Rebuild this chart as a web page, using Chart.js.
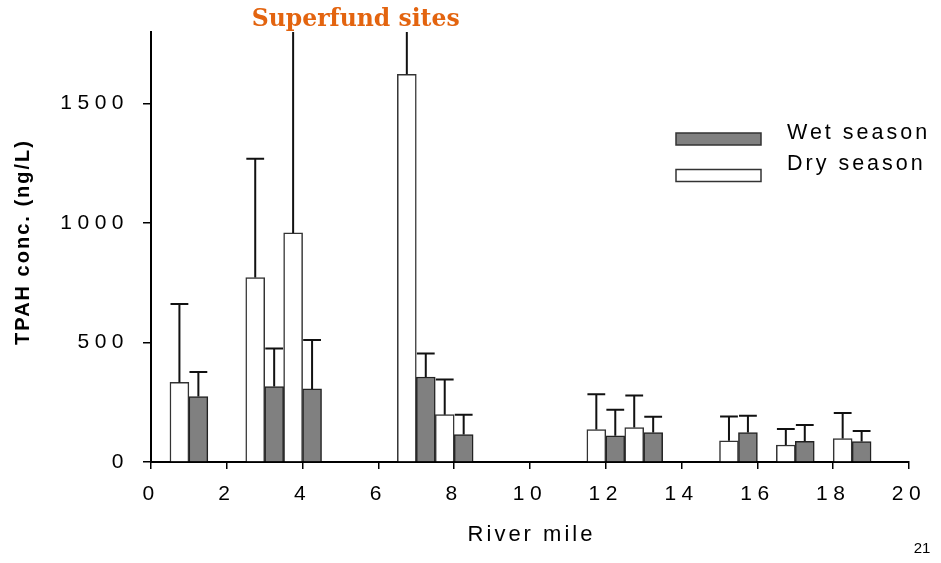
<!DOCTYPE html>
<html>
<head>
<meta charset="utf-8">
<title>TPAH by river mile</title>
<script src="https://cdn.jsdelivr.net/npm/chart.js@4.4.1/dist/chart.umd.min.js"></script>
<style>
  html, body { margin: 0; padding: 0; background: #fff; }
  #chart { display: block; }
</style>
</head>
<body>
<canvas id="chart" width="941" height="563"></canvas>
<script>
// river mile of each sampling pair, dry bar sits left of the mile, wet bar right
const riverMiles = [1, 3, 4, 7, 8, 12, 13, 15.5, 17, 18.5];
const dryMeans = [333, 772, 959, 1623, 198, 136, 144, 89, 71, 98];
const drySd = [328, 497, 950, 600, 147, 148, 134, 101, 67, 107];
const wetMeans = [274, 316, 306, 356, 115, 110, 123, 123, 87, 86];
const wetSd = [103, 159, 205, 98, 83, 109, 66, 71, 68, 44];
const xTicks = [0, 2, 4, 6, 8, 10, 12, 14, 16, 18, 20];
const yTicks = [0, 500, 1000, 1500];

const FONT = "'Liberation Sans', Arial, sans-serif";
Chart.defaults.font.family = FONT;
Chart.defaults.color = '#000';

const toPoints = (vals) => riverMiles.map((m, i) => ({ x: m, y: vals[i] }));

// tick labels in the slide are widely tracked
const tracking = {
  id: 'tracking',
  beforeDraw(chart) {
    chart.ctx.letterSpacing = '5.5px';
  }
};

// one-sided (upper) error bars with a cap
const errorBars = {
  id: 'errorBars',
  afterDatasetsDraw(chart) {
    const { ctx, chartArea, scales: { y } } = chart;
    ctx.save();
    ctx.beginPath();
    ctx.rect(chartArea.left, chartArea.top, chartArea.width, chartArea.height);
    ctx.clip();
    ctx.strokeStyle = '#111';
    ctx.lineWidth = 2;
    chart.data.datasets.forEach((ds, di) => {
      const meta = chart.getDatasetMeta(di);
      meta.data.forEach((bar, i) => {
        const top = y.getPixelForValue(ds.data[i].y + ds.sd[i]);
        const half = bar.width * 0.47;
        ctx.beginPath();
        ctx.moveTo(bar.x, bar.y);
        ctx.lineTo(bar.x, top);
        ctx.moveTo(bar.x - half, top);
        ctx.lineTo(bar.x + half, top);
        ctx.stroke();
      });
    });
    ctx.restore();
  }
};

// heading, legend, axis titles and slide number
const decorations = {
  id: 'decorations',
  afterDraw(chart) {
    const { ctx, scales: { x } } = chart;
    ctx.save();

    ctx.letterSpacing = '0px';
    ctx.font = "bold 23.5px 'DejaVu Serif', serif";
    ctx.fillStyle = '#E3640F';
    ctx.textAlign = 'center';
    ctx.textBaseline = 'middle';
    ctx.fillText('Superfund sites', x.getPixelForValue(5.4), 20);

    // legend: wet listed first
    const items = [chart.data.datasets[1], chart.data.datasets[0]];
    items.forEach((ds, k) => {
      const top = 133 + k * 36.5;
      ctx.fillStyle = ds.backgroundColor;
      ctx.fillRect(676, top, 85, 12);
      ctx.strokeStyle = '#333';
      ctx.lineWidth = 1.5;
      ctx.strokeRect(676, top, 85, 12);
      ctx.fillStyle = '#000';
      ctx.letterSpacing = '3px';
      ctx.font = '21.5px ' + FONT;
      ctx.textAlign = 'left';
      ctx.textBaseline = 'alphabetic';
      ctx.fillText(ds.label, 787, 139 + k * 30.5);
    });

    // x axis title
    ctx.letterSpacing = '3px';
    ctx.font = '22px ' + FONT;
    ctx.textAlign = 'center';
    ctx.textBaseline = 'middle';
    ctx.fillText('River mile', (chart.chartArea.left + chart.chartArea.right) / 2 + 1.5, 535);

    // y axis title
    ctx.save();
    ctx.translate(23, 243);
    ctx.rotate(-Math.PI / 2);
    ctx.letterSpacing = '2px';
    ctx.font = 'bold 20px ' + FONT;
    ctx.fillText('TPAH conc. (ng/L)', 1, 0);
    ctx.restore();

    ctx.letterSpacing = '0px';
    ctx.font = '15px ' + FONT;
    ctx.textAlign = 'center';
    ctx.fillText('21', 922, 549);

    ctx.restore();
  }
};

new Chart(document.getElementById('chart'), {
  type: 'bar',
  data: {
    datasets: [
      {
        label: 'Dry season',
        data: toPoints(dryMeans),
        sd: drySd,
        backgroundColor: '#ffffff',
        borderColor: '#333333',
        borderWidth: 1.5,
        borderSkipped: 'bottom'
      },
      {
        label: 'Wet season',
        data: toPoints(wetMeans),
        sd: wetSd,
        backgroundColor: '#808080',
        borderColor: '#222222',
        borderWidth: 1.5,
        borderSkipped: 'bottom'
      }
    ]
  },
  options: {
    responsive: false,
    animation: false,
    devicePixelRatio: 1,
    barPercentage: 1,
    categoryPercentage: 1,
    layout: { padding: { top: 32, right: 32, left: 0, bottom: 0 } },
    plugins: {
      legend: { display: false },
      tooltip: { enabled: false }
    },
    scales: {
      x: {
        type: 'linear',
        min: 0,
        max: 20,
        offset: false,
        afterBuildTicks: (scale) => { scale.ticks = xTicks.map(v => ({ value: v })); },
        afterFit: (scale) => { scale.height = 101; },
        grid: {
          offset: false,
          drawOnChartArea: false,
          drawTicks: true,
          tickLength: 7,
          color: '#000',
          lineWidth: 1.5
        },
        border: { display: true, color: '#000', width: 2 },
        ticks: {
          font: { size: 21 },
          color: '#000',
          padding: 13,
          maxRotation: 0,
          autoSkip: false,
          callback: (v) => String(v)
        }
      },
      y: {
        min: 0,
        max: 1800,
        afterBuildTicks: (scale) => { scale.ticks = yTicks.map(v => ({ value: v })); },
        afterFit: (scale) => { scale.width = 151; },
        grid: {
          drawOnChartArea: false,
          drawTicks: true,
          tickLength: 8,
          color: '#000',
          lineWidth: 1.5
        },
        border: { display: true, color: '#000', width: 2 },
        ticks: {
          font: { size: 21 },
          color: '#000',
          padding: 14,
          callback: (v) => String(v)
        }
      }
    }
  },
  plugins: [tracking, errorBars, decorations]
});
</script>
</body>
</html>
